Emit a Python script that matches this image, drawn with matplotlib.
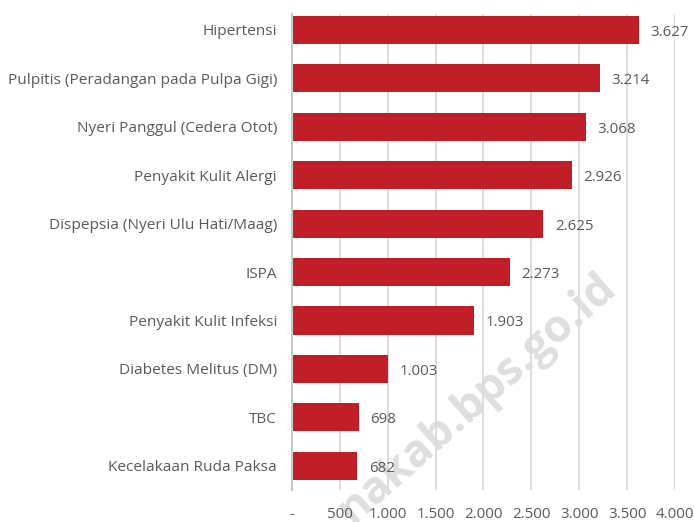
import matplotlib as mpl
import matplotlib.pyplot as plt

categories = [
    "Hipertensi",
    "Pulpitis (Peradangan pada Pulpa Gigi)",
    "Nyeri Panggul (Cedera Otot)",
    "Penyakit Kulit Alergi",
    "Dispepsia (Nyeri Ulu Hati/Maag)",
    "ISPA",
    "Penyakit Kulit Infeksi",
    "Diabetes Melitus (DM)",
    "TBC",
    "Kecelakaan Ruda Paksa",
]
values = [3627, 3214, 3068, 2926, 2625, 2273, 1903, 1003, 698, 682]
value_labels = ["3.627", "3.214", "3.068", "2.926", "2.625", "2.273", "1.903", "1.003", "698", "682"]
xticks = [0, 500, 1000, 1500, 2000, 2500, 3000, 3500, 4000]
xtick_labels = ["-", "500", "1.000", "1.500", "2.000", "2.500", "3.000", "3.500", "4.000"]

mpl.rcParams['font.family'] = ['Open Sans', 'DejaVu Sans']
text_color = "#595959"
bar_color = "#C01F28"
grid_color = "#D9D9D9"

fig = plt.figure(figsize=(6.94, 5.22), dpi=100)
ax = fig.add_axes([0.4207, 0.0613, 0.5519, 0.9119])

ypos = list(range(len(categories)))
ax.barh(ypos, values, height=0.58, color=bar_color, zorder=3)

# angka di kanan batang
for y, v, lab in zip(ypos, values, value_labels):
    ax.text(v + 120, y + 0.05, lab, va="center", ha="left",
            fontsize=10.8, color=text_color, zorder=4)

ax.set_xlim(0, 4000)
ax.set_ylim(9.5, -0.33)
ax.set_yticks(ypos)
ax.set_yticklabels(categories)
ax.set_xticks(xticks)
ax.set_xticklabels(xtick_labels)
ax.tick_params(axis="y", length=0, pad=10.8, labelsize=11.1, labelcolor=text_color)
ax.tick_params(axis="x", length=0, pad=12, labelsize=10.8, labelcolor=text_color)

ax.grid(axis="x", color=grid_color, linewidth=1.3, zorder=0)
for s in ["top", "right", "bottom"]:
    ax.spines[s].set_visible(False)
ax.spines["left"].set_color("#C8C8C8")
ax.spines["left"].set_linewidth(1.5)
ax.spines["left"].set_zorder(5)

# watermark (di belakang batang dan teks)
ax.text(0.89, 0.445, "nakab.bps.go.id", transform=fig.transFigure,
        fontsize=32.5, fontweight="bold", color="#DEDEDE", rotation=41.5,
        rotation_mode="anchor", ha="right", va="baseline",
        zorder=1, clip_on=False)

fig.savefig("out.png", dpi=100)
